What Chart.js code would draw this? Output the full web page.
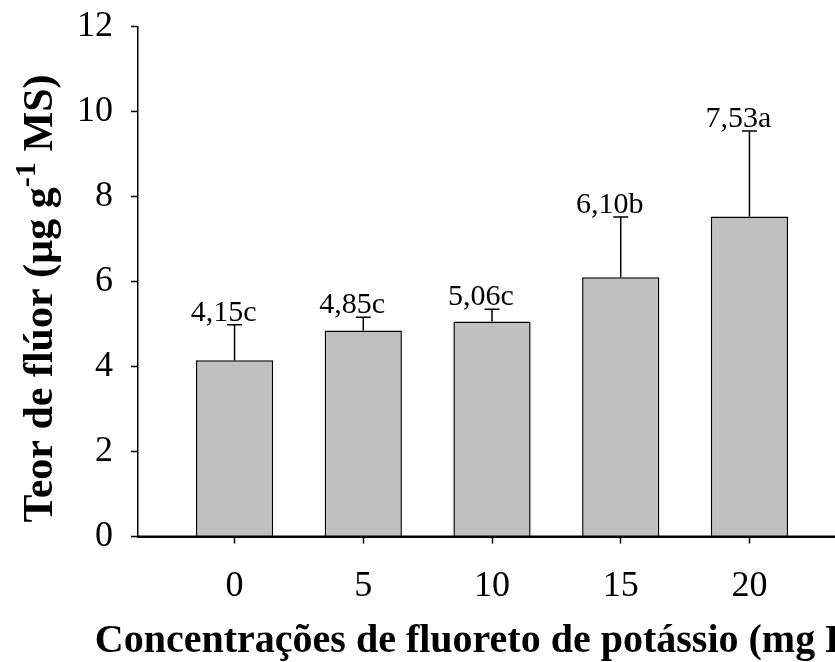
<!DOCTYPE html>
<html>
<head>
<meta charset="utf-8">
<script src="https://cdn.jsdelivr.net/npm/chart.js@4"></script>
<style>
  html, body { margin: 0; padding: 0; background: #fff; overflow: hidden; }
  #wrap { position: relative; width: 870px; height: 662px; }
</style>
</head>
<body>
<div id="wrap"><canvas id="c" width="870" height="662"></canvas></div>
<script>
// Potassium fluoride concentration (mg L-1) and fluorine content (µg g-1 DM)
const concentrations = [0, 5, 10, 15, 20];
const fluorineContent = [4.15, 4.85, 5.06, 6.10, 7.53];
const errorUpper = [0.83, 0.31, 0.29, 1.42, 2.01];
const groupLetters = ['c', 'c', 'c', 'b', 'a'];
const xTicks = [0, 5, 10, 15, 20];
const yTicks = [0, 2, 4, 6, 8, 10, 12];

const SERIF = '"Liberation Serif", "Times New Roman", Times, serif';

// Draws a line of text in which some parts are superscripts, centred on x
function drawRich(ctx, parts, x, y, size, weight) {
  const supScale = 0.72;
  const widths = parts.map(p => {
    ctx.font = `${weight} ${p.sup ? size * supScale : size}px ${SERIF}`;
    return ctx.measureText(p.t).width;
  });
  const total = widths.reduce((a, b) => a + b, 0);
  let cx = x - total / 2;
  parts.forEach((p, i) => {
    ctx.font = `${weight} ${p.sup ? size * supScale : size}px ${SERIF}`;
    ctx.fillText(p.t, cx, p.sup ? y - size * 0.4 : y);
    cx += widths[i];
  });
}

const annotate = {
  id: 'annotate',
  afterDatasetsDraw(chart) {
    const { ctx, scales: { x, y } } = chart;
    ctx.save();
    ctx.strokeStyle = '#000';
    ctx.lineWidth = 1.5;
    ctx.fillStyle = '#000';
    ctx.textAlign = 'center';
    ctx.textBaseline = 'alphabetic';
    ctx.font = `30px ${SERIF}`;
    concentrations.forEach((c, i) => {
      const px = x.getPixelForValue(c);
      const y0 = y.getPixelForValue(fluorineContent[i]);
      const y1 = y.getPixelForValue(fluorineContent[i] + errorUpper[i]);
      ctx.beginPath();
      ctx.moveTo(px, y0);
      ctx.lineTo(px, y1);
      ctx.moveTo(px - 7.5, y1);
      ctx.lineTo(px + 7.5, y1);
      ctx.stroke();
      const label = fluorineContent[i].toFixed(2).replace('.', ',') + groupLetters[i];
      ctx.fillText(label, px - 11, y1 - 4);
    });
    // x axis line on top of the bar bottoms
    ctx.lineWidth = 2;
    ctx.beginPath();
    ctx.moveTo(chart.chartArea.left, y.getPixelForValue(0));
    ctx.lineTo(chart.chartArea.right, y.getPixelForValue(0));
    ctx.stroke();
    ctx.restore();
  },
  afterDraw(chart) {
    const { ctx, chartArea } = chart;
    ctx.save();
    ctx.fillStyle = '#000';
    ctx.textAlign = 'left';
    ctx.textBaseline = 'alphabetic';
    // x axis title
    drawRich(ctx, [
      { t: 'Concentrações de fluoreto de potássio (mg L' },
      { t: '-1', sup: true },
      { t: ')' }
    ], (chartArea.left + chartArea.right) / 2, 652, 40, 'bold');
    // y axis title
    ctx.translate(52, (chartArea.top + chartArea.bottom) / 2 + 17);
    ctx.rotate(-Math.PI / 2);
    drawRich(ctx, [
      { t: 'Teor de flúor (µg g' },
      { t: '-1', sup: true },
      { t: ' MS)' }
    ], 0, 0, 42, 'bold');
    ctx.restore();
  }
};

new Chart(document.getElementById('c'), {
  type: 'bar',
  data: {
    datasets: [{
      data: concentrations.map((c, i) => ({ x: c, y: fluorineContent[i] })),
      backgroundColor: '#c0c0c0',
      borderColor: '#000',
      borderWidth: 1.5,
      barPercentage: 0.6,
      categoryPercentage: 1
    }]
  },
  options: {
    responsive: false,
    animation: false,
    layout: { padding: { top: 26.5, right: 24, left: 0, bottom: 0 } },
    plugins: { legend: { display: false }, tooltip: { enabled: false } },
    scales: {
      x: {
        type: 'linear',
        offset: false,
        min: -3.75,
        max: 23.75,
        afterBuildTicks: s => { s.ticks = xTicks.map(v => ({ value: v })); },
        afterFit: s => { s.height = 125.5; s.paddingLeft = 0; s.paddingRight = 0; },
        grid: { offset: false, drawOnChartArea: false, tickLength: 7, tickWidth: 1.5, color: '#000' },
        border: { color: '#000', width: 2 },
        ticks: { font: { family: SERIF, size: 36 }, color: '#000', padding: 21, maxRotation: 0, autoSkip: false }
      },
      y: {
        min: 0,
        max: 12,
        afterBuildTicks: s => { s.ticks = yTicks.map(v => ({ value: v })); },
        afterFit: s => { s.width = 138; s.paddingTop = 0; s.paddingBottom = 0; },
        grid: { drawOnChartArea: false, tickLength: 7, tickWidth: 1.5, color: '#000' },
        border: { color: '#000', width: 1.5 },
        ticks: { font: { family: SERIF, size: 36 }, color: '#000', padding: 18 }
      }
    }
  },
  plugins: [annotate]
});
</script>
</body>
</html>
